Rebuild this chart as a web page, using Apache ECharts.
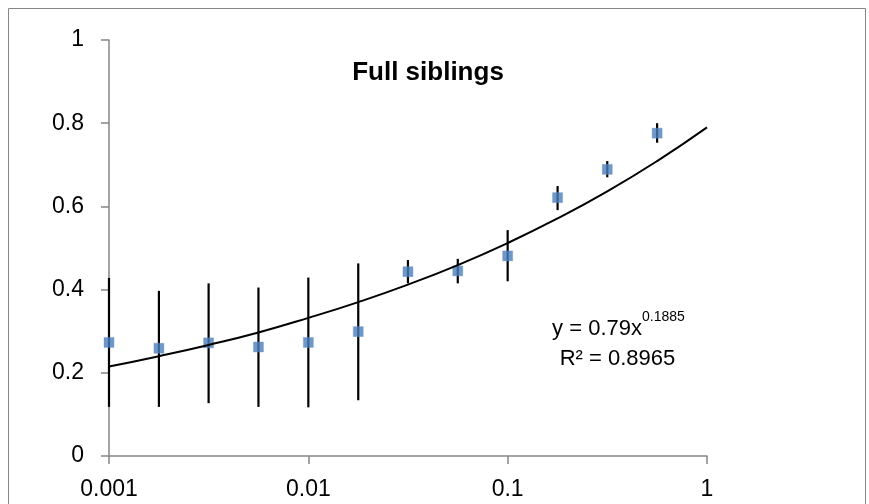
<!DOCTYPE html>
<html>
<head>
<meta charset="utf-8">
<script src="https://cdn.jsdelivr.net/npm/echarts@6/dist/echarts.min.js"></script>
<style>
  html, body { margin: 0; padding: 0; background: #fff; }
  #chart { width: 869px; height: 504px; }
</style>
</head>
<body>
<div id="chart"></div>
<script>
// x positions (log scale), read at quarter decades
const xValues = [0.001, 0.00178, 0.00316, 0.00562, 0.01, 0.0178, 0.0316, 0.0562, 0.1, 0.178, 0.316, 0.562];
// point means
const yValues = [0.273, 0.259, 0.272, 0.262, 0.273, 0.299, 0.443, 0.445, 0.481, 0.621, 0.689, 0.776];
// error bar ends
const errLow  = [0.118, 0.118, 0.127, 0.118, 0.117, 0.134, 0.415, 0.415, 0.420, 0.591, 0.670, 0.753];
const errHigh = [0.428, 0.397, 0.415, 0.405, 0.429, 0.463, 0.471, 0.474, 0.543, 0.649, 0.709, 0.800];
// power trendline
const trendX = [0.001, 0.00178, 0.00316, 0.00562, 0.01, 0.0178, 0.0316, 0.0562, 0.1, 0.178, 0.316, 0.562, 1];
const trendY = [0.215, 0.240, 0.267, 0.297, 0.332, 0.370, 0.412, 0.459, 0.512, 0.571, 0.636, 0.709, 0.790];
const xTicks = ['0.001', '0.01', '0.1', '1'];

const font = "'Liberation Sans', Arial, sans-serif";

let chart = echarts.init(document.getElementById('chart'));

let option = {
    animation: false,
    backgroundColor: '#fff',
    title: {
        text: 'Full siblings',
        left: 423,
        top: 55,
        textAlign: 'center',
        textStyle: { fontFamily: font, fontSize: 26, fontWeight: 'bold', color: '#000' }
    },
    grid: { left: 109, right: 162, top: 40, bottom: 48 },
    xAxis: {
        type: 'log',
        logBase: 10,
        min: 0.001,
        max: 1,
        interval: 1,
        axisLine: { lineStyle: { color: '#868686', width: 1.5 } },
        axisTick: { inside: false, length: 8, lineStyle: { color: '#868686', width: 1.5 } },
        splitLine: { show: false },
        minorTick: { show: false },
        axisLabel: {
            margin: 22,
            color: '#000',
            fontFamily: font,
            fontSize: 23,
            formatter: (v) => {
                let e = Math.round(Math.log10(v));
                return xTicks[e + 3];
            }
        }
    },
    yAxis: {
        type: 'value',
        min: 0,
        max: 1,
        interval: 0.2,
        axisLine: { show: true, lineStyle: { color: '#868686', width: 1.5 } },
        axisTick: { show: true, length: 8, lineStyle: { color: '#868686', width: 1.5 } },
        splitLine: { show: false },
        axisLabel: { margin: 25, color: '#000', fontFamily: font, fontSize: 23 }
    },
    series: [
        {
            type: 'custom',
            z: 1,
            data: xValues.map((x, i) => [x, errLow[i], errHigh[i]]),
            renderItem: (params, api) => {
                let lo = api.coord([api.value(0), api.value(1)]);
                let hi = api.coord([api.value(0), api.value(2)]);
                return {
                    type: 'line',
                    shape: { x1: lo[0], y1: lo[1], x2: hi[0], y2: hi[1] },
                    style: { stroke: '#000', lineWidth: 2.2 }
                };
            }
        },
        {
            type: 'scatter',
            z: 2,
            symbol: 'rect',
            symbolSize: 10,
            itemStyle: { color: '#4a7ebb', borderColor: '#6f97c9', borderWidth: 0.5 },
            data: xValues.map((x, i) => [x, yValues[i]])
        },
        {
            type: 'line',
            z: 3,
            smooth: true,
            showSymbol: false,
            lineStyle: { color: '#000', width: 2 },
            data: trendX.map((x, i) => [x, trendY[i]])
        }
    ],
    graphic: [
        {
            type: 'rect',
            shape: { x: 8.5, y: 8.5, width: 857, height: 520 },
            style: { fill: 'none', stroke: '#868686', lineWidth: 1 },
            silent: true
        },
        {
            type: 'text',
            style: {
                x: 642, y: 328.5, text: 'y = 0.79x',
                textAlign: 'right', textVerticalAlign: 'middle',
                fontFamily: font, fontSize: 22, fill: '#000'
            }
        },
        {
            type: 'text',
            style: {
                x: 642, y: 317, text: '0.1885',
                textAlign: 'left', textVerticalAlign: 'middle',
                fontFamily: font, fontSize: 14, fill: '#000'
            }
        },
        {
            type: 'text',
            style: {
                x: 617.5, y: 358.5, text: 'R² = 0.8965',
                textAlign: 'center', textVerticalAlign: 'middle',
                fontFamily: font, fontSize: 22, fill: '#000'
            }
        }
    ]
};

option && chart.setOption(option);
</script>
</body>
</html>
